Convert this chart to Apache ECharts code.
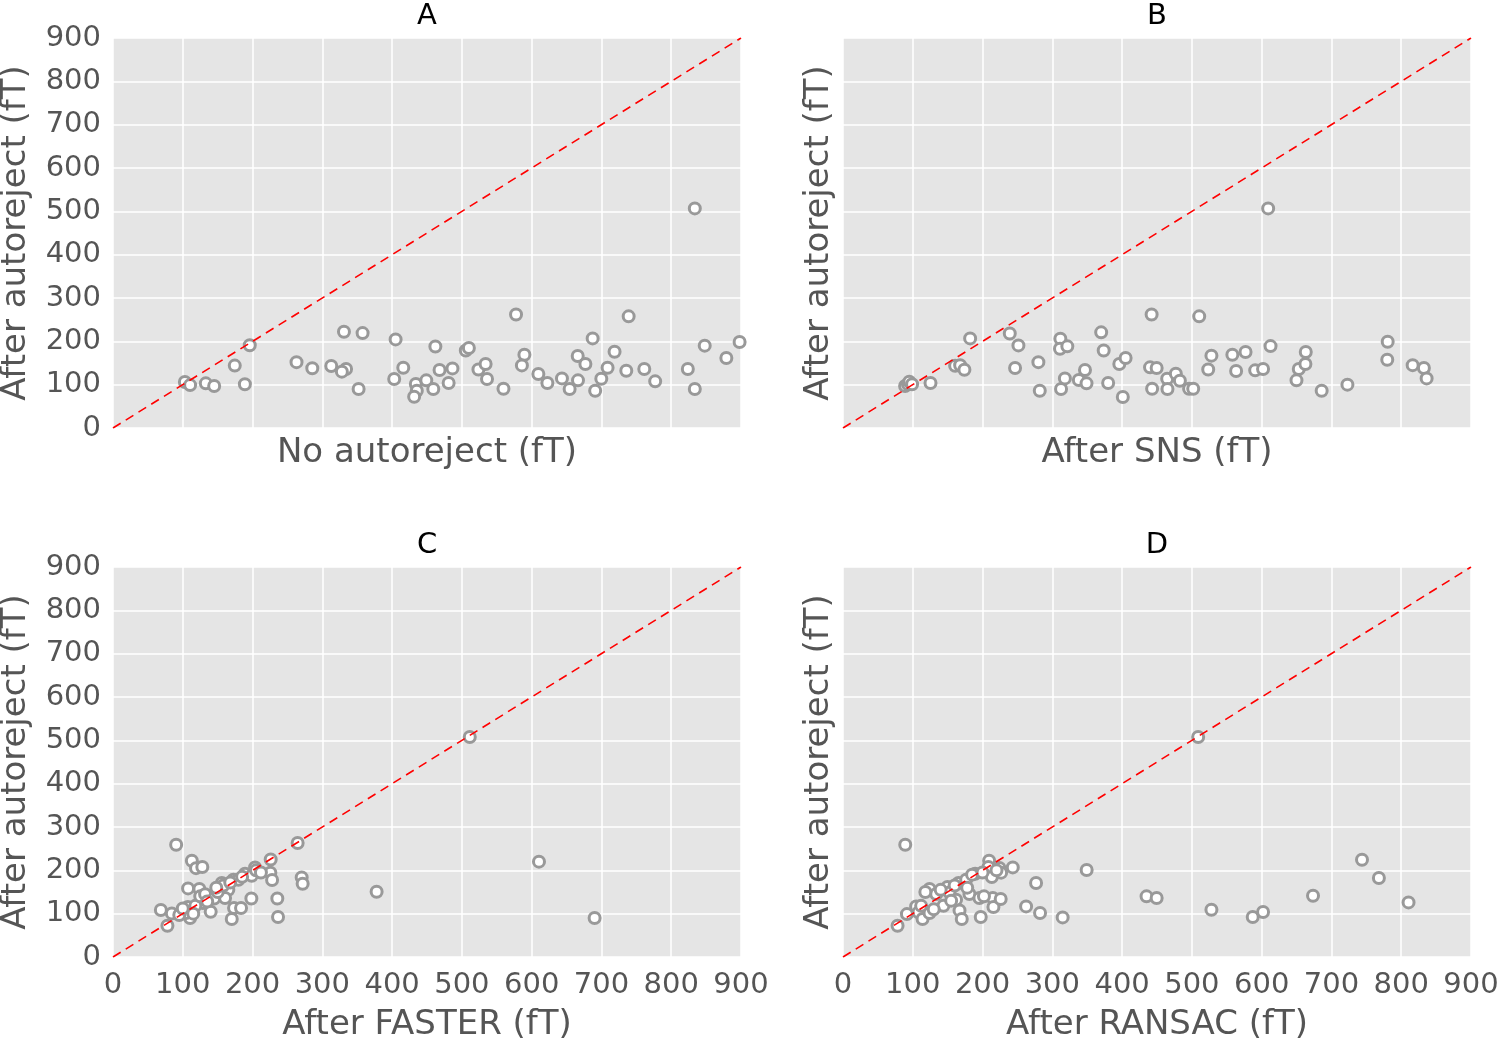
<!DOCTYPE html>
<html>
<head>
<meta charset="utf-8">
<script src="https://cdn.jsdelivr.net/npm/echarts@6/dist/echarts.min.js"></script>
<style>
html,body{margin:0;padding:0;background:#fff;}
#chart{width:1501px;height:1042px;}
</style>
</head>
<body>
<div id="chart"></div>
<script>
// Panel titles and axis names
const panelTitles = ['A', 'B', 'C', 'D'];
const xAxisNames = ['No autoreject (fT)', 'After SNS (fT)', 'After FASTER (fT)', 'After RANSAC (fT)'];
const yAxisName = 'After autoreject (fT)';
const tickValues = [0, 100, 200, 300, 400, 500, 600, 700, 800, 900];
const identityLine = [[0, 0], [900, 900]];

// Panel A: [No autoreject, After autoreject]
const dataA = [
  [103,106],[110.5,99],[133,103],[145,97],[174.5,144],[189,101],[196,191],[263,152],[285.6,138],[312.8,143],
  [334,136],[328,130],[331,222],[357.7,219],[352,90],[405,204.5],[403,113],[416,139],[434,101.5],[435.4,86],
  [431.6,72],[449,110],[459,90],[462,188],[468,134],[481,104],[486.5,137.5],[505.6,179],[510,184.5],[523.7,135],
  [534,147.7],[536,113],[559.6,90.7],[577.6,262],[589.6,169],[586,144.5],[609.6,124.6],[622.5,104],[643.4,114.5],[654.4,90],
  [666.4,110],[666,166],[677,147.7],[687.4,206.8],[691,86],[699.8,113.8],[708.8,139],[718.8,176],[735.6,132],[739,257.6],
  [761.4,136],[777,107.6],[823.8,136],[833.8,90],[833.8,506.8],[848,190],[879,161.5],[898,198.5]
];

// Panel B: [After SNS, After autoreject]
const dataB = [
  [89,97],[93,101],[95,107],[99,101],[125.4,104],[160.7,143.8],[167.9,145],[174,134.5],[182.2,206.8],[239,218],
  [251.4,190.6],[246.6,138.4],[280,152],[282,86],[311.5,206],[311,183],[321.5,188.4],[312.5,90],[318,114.5],[338,110.7],
  [346.8,133.8],[349,103],[370,220.7],[373.6,179],[380,104],[396,147.7],[405,161.5],[401,71.5],[442.3,262],[440,140],
  [449.5,138.4],[443,90.7],[464.6,113.8],[477,125.3],[482.8,109],[465,90],[496,90.7],[501.9,90.7],[510.5,257.6],[528,167],
  [523.4,135],[558,169],[563.4,131.5],[576.9,175.4],[590.7,133],[602,136],[609.3,506.8],[612.7,189],[649.9,110],[653.2,136],
  [662.7,147.7],[663.2,175.4],[686,86],[722.9,100],[780.6,199],[780,157.6],[816.4,145],[832.5,138.4],[836.4,114.5]
];

// Panel C: [After FASTER, After autoreject]
const dataC = [
  [90.5,259],[113,222],[119,205],[128,207.7],[264.6,263],[226,225],[225.5,194.6],[228,177.7],[203.6,206.8],[270.4,183.7],
  [271.8,169],[235.5,135],[236.5,92.3],[377.8,150.7],[68.6,108.5],[84.3,100.6],[78,72],[107.6,158.3],[123.8,157],[107.2,115.4],
  [110.5,90],[104.8,101.5],[128.7,124.6],[140,104.5],[141.6,140.8],[153.4,155.3],[155.9,170.8],[165.3,155.3],[160.6,136],[172.5,178.4],
  [179.7,178.4],[189.2,192],[198.8,187.6],[173.5,113],[183.5,113],[170.2,87.7],[198.3,135],[511.3,507.7],[610.5,220],[690.2,90],
  [95,97],[100,112],[118,118],[125,140],[132,145],[145,135],[150,150],[158,165],[168,172],[185,185],
  [205,200],[212,195],[115,100],[135,128],[148,160]
];

// Panel D: [After RANSAC, After autoreject]
const dataD = [
  [89.2,259],[78.2,72],[91.6,99],[104.8,116.8],[108.2,103],[114,87.7],[124,101.5],[124,157],[133.6,145.4],[144,118.4],
  [149.7,161.5],[152.6,149],[162,132],[167,107.5],[170.2,87.7],[165.5,170.8],[176.5,178.4],[181.2,145.4],[189.4,192],[195.5,136],
  [197.4,92.3],[209.4,222],[208.4,207.7],[213.3,184.6],[224.2,205.4],[226.6,194.6],[214.7,136],[215.6,115.4],[226,133.8],[243.3,206.8],
  [262.4,116.8],[276.7,170.8],[282.4,101.5],[314.8,91.4],[349.2,200.8],[435,140],[449.5,136],[509,507.7],[528,109],[587.2,92.3],
  [602,103.8],[673.6,141.5],[743.8,224.5],[768,182.3],[810.5,126],
  [118,150],[140,155],[155,130],[185,190],[200,195],[220,200],[130,110],[112,118],[178,160],[202,140],[160,165]
];

const panelData = [dataA, dataB, dataC, dataD];

const chart = echarts.init(document.getElementById('chart'), null, {renderer: 'canvas'});
const FONT = 'DejaVu Sans';
const grids = [
  {left: 113, top: 38, width: 628, height: 390},
  {left: 843, top: 38, width: 628, height: 390},
  {left: 113, top: 567, width: 628, height: 390},
  {left: 843, top: 567, width: 628, height: 390}
];

const option = {
  animation: false,
  backgroundColor: '#ffffff',
  title: panelTitles.map((t, i) => ({
    text: t,
    left: grids[i].left + grids[i].width / 2 - 5,
    top: grids[i].top - 41,
    textAlign: 'center',
    textStyle: {fontFamily: FONT, fontSize: 29, fontWeight: 'normal', color: '#000'}
  })),
  grid: grids.map(g => Object.assign({show: true, backgroundColor: '#e5e5e5', borderWidth: 0, outerBoundsMode: 'none', containLabel: false}, g)),
  xAxis: grids.map((g, i) => ({
    type: 'value', gridIndex: i, min: tickValues[0], max: tickValues[tickValues.length - 1], interval: 100,
    name: xAxisNames[i], nameLocation: 'middle', nameGap: i < 2 ? 8 : 51,
    nameTextStyle: {fontFamily: FONT, fontSize: 34, color: '#555', verticalAlign: 'top', lineHeight: 34},
    axisLine: {show: false}, axisTick: {show: false},
    axisLabel: {show: i >= 2, fontFamily: FONT, fontSize: 29, color: '#555', margin: 14},
    splitLine: {show: true, lineStyle: {color: '#ffffff', width: 1.5}}
  })),
  yAxis: grids.map((g, i) => ({
    type: 'value', gridIndex: i, min: tickValues[0], max: tickValues[tickValues.length - 1], interval: 100,
    name: yAxisName, nameLocation: 'middle', nameGap: i % 2 === 0 ? 80 : 7,
    nameTextStyle: {fontFamily: FONT, fontSize: 34, color: '#555'},
    axisLine: {show: false}, axisTick: {show: false},
    axisLabel: {show: i % 2 === 0, fontFamily: FONT, fontSize: 29, color: '#555', margin: 12},
    splitLine: {show: true, lineStyle: {color: '#ffffff', width: 1.5}}
  })),
  series: [].concat(
    panelData.map((d, i) => ({
      type: 'line', xAxisIndex: i, yAxisIndex: i, data: identityLine, symbol: 'none', silent: true,
      lineStyle: {color: '#ff0000', width: 1.6, type: [9, 6]}, z: 3
    })),
    panelData.map((d, i) => ({
      type: 'scatter', xAxisIndex: i, yAxisIndex: i, data: d, symbol: 'circle', symbolSize: 11,
      itemStyle: {color: '#ffffff', borderColor: '#999999', borderWidth: 3, opacity: 1}, z: 2
    }))
  )
};
chart.setOption(option);
</script>
</body>
</html>
